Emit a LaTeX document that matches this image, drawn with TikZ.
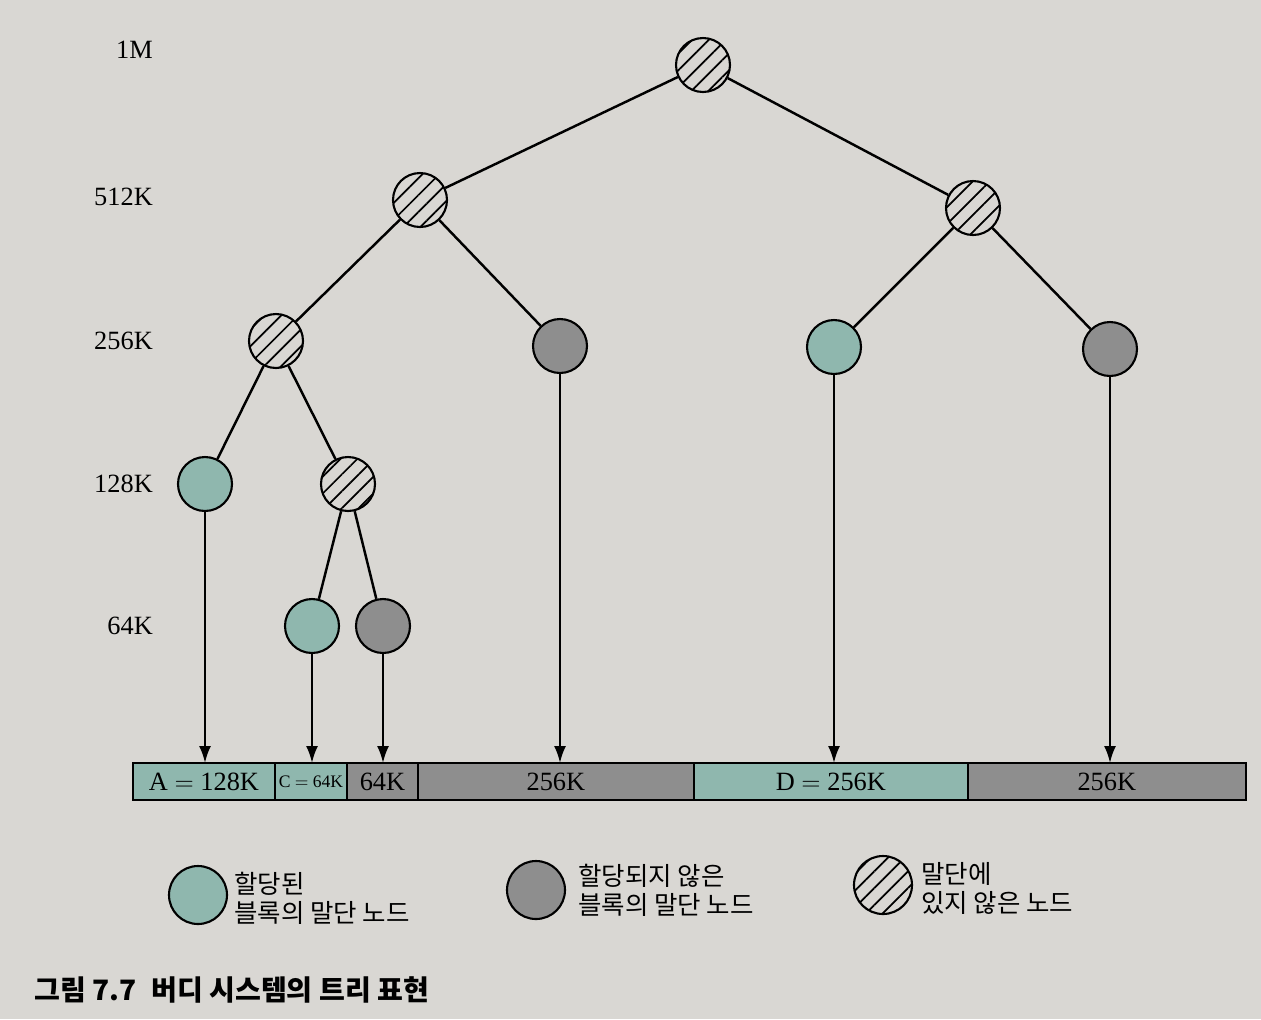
\documentclass[tikz,border=0pt]{standalone}
\usepackage{fontspec}
\setmainfont{Liberation Serif}
\newfontfamily\kr{Noto Sans CJK KR}
\usetikzlibrary{arrows.meta,patterns.meta}
\definecolor{pagebg}{HTML}{D9D7D3}
\definecolor{alloc}{HTML}{8FB7AE}
\definecolor{free}{HTML}{8E8E8E}

\begin{document}
\begin{tikzpicture}[x=0.02cm, y=-0.02cm,
        used/.style={circle, draw, line width=1.2pt, fill=alloc, minimum size=1.08cm},
        unused/.style={circle, draw, line width=1.2pt, fill=free, minimum size=1.08cm},
        split/.style={circle, draw, line width=1.2pt, minimum size=1.08cm, pattern={Lines[angle=45, distance=6.8pt, line width=1pt]}},
        sizelab/.style={anchor=east, font=\fontsize{15}{18}\selectfont},
        block/.style={draw, line width=1pt, minimum height=0.74cm, inner sep=0pt, outer sep=0pt, anchor=west, font=\fontsize{15}{18}\selectfont},
        legend/.style={anchor=west, align=left, font=\kr\fontsize{14.5}{16.5}\selectfont},
        edge/.style={line width=1.4pt},
        flow/.style={-{Latex[length=3.4mm, width=2.4mm]}, line width=1.3pt}
    ]
        \fill[pagebg] (0,0) rectangle (1261,1019);
        \useasboundingbox (0,0) rectangle (1261,1019);

        \node[sizelab] (l1m) at (159,50) {1M};
        \node[sizelab] (l512) at (159,197) {512K};
        \node[sizelab] (l256) at (159,341) {256K};
        \node[sizelab] (l128) at (159,484) {128K};
        \node[sizelab] (l64) at (159,626) {64K};

        \node[split] (root) at (703,65) {};
        \node[split] (left) at (420,200) {};
        \node[split] (right) at (973,208) {};
        \node[split] (ll) at (276,341) {};
        \node[unused] (lr) at (560,346) {};
        \node[used] (rl) at (834,347) {};
        \node[unused] (rr) at (1110,349) {};
        \node[used] (nodeA) at (205,484) {};
        \node[split] (llr) at (348,484) {};
        \node[used] (nodeC) at (312,626) {};
        \node[unused] (nodeF) at (383,626) {};

        \draw[edge] (root) -- (left);
        \draw[edge] (root) -- (right);
        \draw[edge] (left) -- (ll);
        \draw[edge] (left) -- (lr);
        \draw[edge] (right) -- (rl);
        \draw[edge] (right) -- (rr);
        \draw[edge] (ll) -- (nodeA);
        \draw[edge] (ll) -- (llr);
        \draw[edge] (llr) -- (nodeC);
        \draw[edge] (llr) -- (nodeF);

        % memory bar
        \node[block, fill=alloc, minimum width=2.84cm] (segA) at (133,781.5) {A $=$ 128K};
        \node[block, fill=alloc, minimum width=1.44cm, font=\fontsize{10}{12}\selectfont] (segC) at (segA.east) {C $=$ 64K};
        \node[block, fill=free, minimum width=1.42cm] (segF) at (segC.east) {64K};
        \node[block, fill=free, minimum width=5.52cm] (segB) at (segF.east) {256K};
        \node[block, fill=alloc, minimum width=5.48cm] (segD) at (segB.east) {D $=$ 256K};
        \node[block, fill=free, minimum width=5.56cm] (segE) at (segD.east) {256K};

        \draw[flow] (nodeA) -- (nodeA |- segA.north);
        \draw[flow] (nodeC) -- (nodeC |- segC.north);
        \draw[flow] (nodeF) -- (nodeF |- segF.north);
        \draw[flow] (lr) -- (lr |- segB.north);
        \draw[flow] (rl) -- (rl |- segD.north);
        \draw[flow] (rr) -- (rr |- segE.north);

        % legend
        \node[used, minimum size=1.16cm] (keyused) at (198,895) {};
        \node[legend] (txtused) at (228,898) {할당된\\블록의 말단 노드};
        \node[unused, minimum size=1.16cm] (keyfree) at (536,890) {};
        \node[legend] (txtfree) at (572,890) {할당되지 않은\\블록의 말단 노드};
        \node[split, minimum size=1.16cm] (keysplit) at (883,885) {};
        \node[legend] (txtsplit) at (915,888) {말단에\\있지 않은 노드};

        \node[anchor=west, font=\kr\bfseries\fontsize{16}{19}\selectfont] (figno) at (28,990) {그림 7.7};
        \node[anchor=west, font=\kr\bfseries\fontsize{16}{19}\selectfont] (figtitle) at (145,990) {버디 시스템의 트리 표현};
    \end{tikzpicture}
\end{document}
